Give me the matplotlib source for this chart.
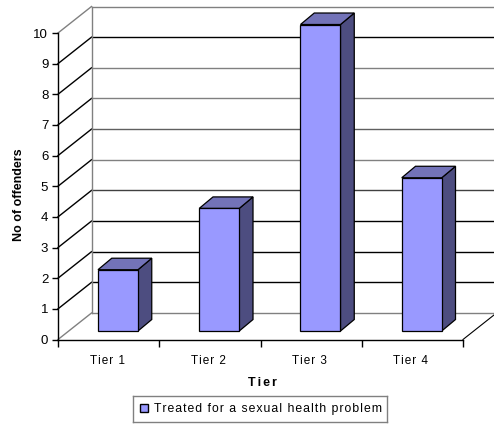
#! /usr/bin/env python3

import matplotlib
matplotlib.use('Agg')
from matplotlib import pyplot as plt
from matplotlib.patches import Polygon

plt.rcParams['font.family'] = ['Liberation Sans', 'DejaVu Sans']

tiers = ['Tier 1', 'Tier 2', 'Tier 3', 'Tier 4']
offenders = [2, 4, 10, 5]
y_ticks = list(range(11))
back_colors = ['#808080', '#000000', '#000000', '#000000', '#404040', '#808080',
               '#606060', '#808080', '#808080', '#000000', '#808080']
side_colors = ['#808080'] + ['#000000'] * 9 + ['#808080']
legend_label = 'Treated for a sexual health problem'
x_title = 'Tier'

W, H = 494, 424
X0, X1 = 58, 463      # front floor edge, pixels
Y0, Y10 = 339.5, 33   # front 0 and 10, pixels

# fake 3d depth in data units (x in categories, y in values)
dx = 33.5 / ((X1 - X0) / 4)
dy = 26.5 / ((Y0 - Y10) / 10)
bar_w = 0.395
bar_left = 0.395
bar_dx = 0.136
bar_dy = 0.375
bar_base = 0.277


def spaced(s, gap='\u200a'):
    # the original text is tracked out a little
    return gap.join(s)


fig = plt.figure(figsize=(W / 100, H / 100), dpi=100)
ax = fig.add_axes([X0 / W, 1 - Y0 / H, (X1 - X0) / W, (Y0 - Y10) / H])
ax.set_xlim(0, 4)
ax.set_ylim(0, 10)
for s in ax.spines.values():
    s.set_visible(False)

n = len(tiers)

# walls and grid
for v, c, c2 in zip(y_ticks, back_colors, side_colors):
    ax.plot([0, dx], [v, v + dy], color=c2, lw=1, clip_on=False, zorder=1)
    ax.plot([dx, n + dx], [v + dy, v + dy], color=c, lw=1, clip_on=False, zorder=1)
ax.plot([dx, dx], [dy, 10 + dy], color='#808080', lw=1, clip_on=False, zorder=1)
ax.plot([n, n + dx], [0, dy], color='#000000', lw=0.8, clip_on=False, zorder=1)

# axes lines
ax.plot([0, 0], [0, 10], color='k', lw=1, clip_on=False, zorder=2)
ax.plot([0, n], [0, 0], color='k', lw=1, clip_on=False, zorder=2)

# bars
for i, v in enumerate(offenders):
    l = i + bar_left
    r = l + bar_w
    b = bar_base
    t = bar_base + v
    front = [(l, b), (r, b), (r, t), (l, t)]
    side = [(r, b), (r + bar_dx, b + bar_dy), (r + bar_dx, t + bar_dy), (r, t)]
    top = [(l, t), (r, t), (r + bar_dx, t + bar_dy), (l + bar_dx, t + bar_dy)]
    ax.add_patch(Polygon(side, fc='#4D4D80', ec='k', lw=0.9, clip_on=False, zorder=3))
    ax.add_patch(Polygon(top, fc='#7373B8', ec='k', lw=0.9, clip_on=False, zorder=3))
    ax.add_patch(Polygon(front, fc='#9999FF', ec='k', lw=0.9, clip_on=False, zorder=4))

ax.set_yticks(y_ticks)
ax.set_xticks(range(n + 1))
ax.set_xticklabels([])
ax.tick_params(axis='y', length=4, width=1, pad=3, labelsize=9.5)
ax.tick_params(axis='x', length=5, width=1)

for i, name in enumerate(tiers):
    ax.text(i + 0.485, -0.8, spaced(name), ha='center', va='baseline', fontsize=8.5, clip_on=False)

fig.text(262 / W, 1 - 383 / H, spaced(x_title, '\u200a\u200a'), ha='center', va='center',
         fontsize=9, fontweight='bold')
fig.text(19 / W, 1 - 194.5 / H, 'No of offenders', rotation=90, ha='center', va='center',
         fontsize=9, fontweight='bold')

# legend box
legend = fig.add_axes([133 / W, 1 - 422 / H, 254 / W, 26.5 / H])
legend.set_xlim(133, 387)
legend.set_ylim(422, 395.5)
legend.set_xticks([])
legend.set_yticks([])
for s in legend.spines.values():
    s.set_color('#808080')
    s.set_linewidth(1)
legend.add_patch(plt.Rectangle((140, 404), 8, 8, fc='#9999FF', ec='k', lw=1))
legend.text(154.5, 409, spaced(legend_label), va='center', fontsize=8.8)

fig.savefig('out.png', dpi=100)
